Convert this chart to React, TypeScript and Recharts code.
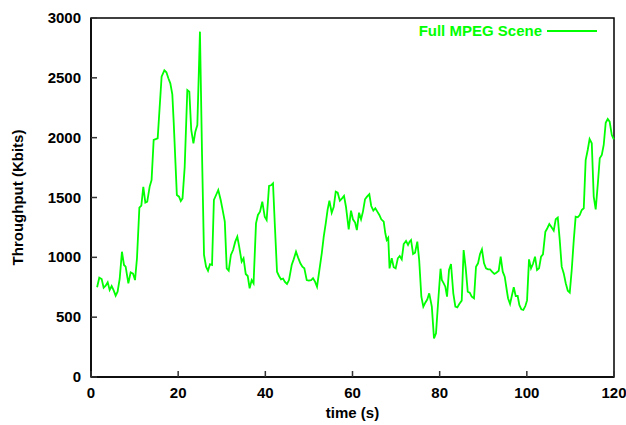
import React from 'react';
import { LineChart, Line, XAxis, YAxis, Legend, ReferenceArea } from 'recharts';

// seconds
const time = [
  1.4, 1.9, 2.45, 2.9, 3.37, 3.83, 4.28, 4.74, 5.2, 5.66, 6.1, 6.58, 7.1, 7.57, 7.95, 8.57, 9.1, 9.64, 10.1, 10.55,
  11.1, 11.55, 12.0, 12.47, 12.9, 13.46, 13.9, 14.38, 15.3, 16.2, 16.83, 17.3, 17.75, 18.2, 18.66, 18.97, 19.7, 20.2,
  20.6, 21.0, 21.5, 22.1, 22.56, 23.0, 23.5, 23.94, 24.4, 25.0, 25.47, 25.93, 26.4, 26.85, 27.3, 27.77, 28.2, 28.7,
  29.2, 29.76, 30.2, 30.7, 31.14, 31.6, 32.1, 32.6, 33.1, 33.57, 34.0, 34.57, 35.0, 35.5, 35.96, 36.4, 36.87, 37.3,
  37.86, 38.3, 38.78, 39.3, 39.86, 40.3, 40.85, 41.3, 41.76, 42.2, 42.68, 43.14, 43.6, 44.06, 44.5, 44.97, 45.43,
  46.05, 46.5, 47.04, 47.5, 48.03, 48.5, 48.95, 49.5, 49.96, 50.5, 50.94, 51.4, 51.86, 52.4, 52.95, 53.4, 53.86,
  54.3, 54.7, 55.23, 55.7, 56.15, 56.6, 57.1, 57.6, 58.05, 58.5, 59.13, 59.66, 60.1, 60.6, 61.0, 61.5, 61.96, 62.4,
  62.87, 63.33, 63.86, 64.3, 64.78, 65.24, 65.7, 66.16, 66.6, 67.16, 67.53, 67.85, 68.2, 68.5, 69.0, 69.45, 69.9,
  70.4, 70.83, 71.3, 71.75, 72.28, 72.74, 73.1, 73.43, 73.9, 74.35, 74.87, 75.3, 75.8, 76.25, 76.7, 77.17, 77.6,
  78.2, 78.7, 79.16, 79.6, 80.2, 80.5, 80.93, 81.3, 81.69, 82.15, 82.6, 83.13, 83.6, 84.05, 84.5, 85.06, 85.5,
  85.98, 86.44, 86.9, 87.36, 87.88, 88.34, 88.8, 89.26, 89.7, 90.18, 90.64, 91.1, 91.55, 92.0, 92.54, 93.0, 93.55,
  94.0, 94.47, 94.93, 95.39, 95.69, 96.15, 96.6, 97.0, 97.45, 97.9, 98.28, 98.74, 99.2, 99.66, 100.05, 100.5,
  100.96, 101.4, 101.88, 102.34, 102.8, 103.26, 103.7, 104.25, 104.7, 105.16, 105.6, 106.17, 106.63, 107.1, 107.55,
  108.0, 108.47, 108.93, 109.4, 109.85, 110.3, 110.77, 111.2, 111.68, 112.14, 112.6, 113.06, 113.5, 113.97, 114.4,
  114.9, 115.35, 115.8, 116.3, 116.73, 117.2, 117.64, 118.1, 118.56, 119.0, 119.5, 119.96,
];

// Kbits
const throughput = [
  750, 830, 819, 746, 763, 791, 727, 760, 724, 680, 713, 819, 1047, 936, 922, 783, 875, 864, 810, 992,
  1415, 1432, 1588, 1457, 1465, 1591, 1646, 1981, 1995, 2510, 2563, 2546, 2496, 2454, 2362, 2134, 1521, 1507,
  1471, 1493, 1757, 2398, 2384, 2064, 1953, 2050, 2106, 2886, 1869, 1020, 922, 888, 942, 936, 1479, 1521,
  1563, 1479, 1396, 1298, 908, 888, 1020, 1061, 1131, 1173, 1089, 964, 992, 861, 844, 741, 810, 783,
  1284, 1354, 1382, 1465, 1340, 1312, 1596, 1602, 1619, 1256, 880, 844, 816, 822, 794, 777, 810,
  936, 983, 1047, 1000, 950, 922, 908, 810, 805, 810, 825, 797, 755, 894, 1034, 1173, 1284,
  1401, 1473, 1373, 1423, 1549, 1540, 1473, 1493, 1513, 1423, 1234, 1390, 1318, 1290, 1228, 1373, 1318, 1382,
  1485, 1507, 1527, 1429, 1390, 1410, 1382, 1354, 1318, 1298, 1201, 1145, 1164, 908, 992, 917, 908,
  992, 1011, 983, 1111, 1137, 1103, 1131, 1145, 1028, 1039, 1131, 978, 671, 588, 621, 649, 699,
  588, 323, 365, 602, 905, 810, 783, 755, 671, 894, 944, 699, 588, 582, 610, 638, 1061,
  908, 713, 705, 671, 658, 922, 950, 1028, 1067, 950, 908, 900, 900, 880, 861, 872, 888,
  1005, 880, 838, 727, 658, 610, 685, 750, 677, 677, 602, 566, 560, 593, 640, 983,
  908, 944, 1005, 894, 908, 1005, 1025, 1214, 1243, 1279, 1256, 1223, 1318, 1332, 1145,
  922, 866, 783, 721, 705, 894, 1145, 1340, 1335, 1354, 1396, 1410, 1813, 1897, 1989,
  1953, 1507, 1401, 1619, 1828, 1855, 1939, 2125, 2156, 2134, 2022, 1986,
];

const xTicks = [0, 20, 40, 60, 80, 100, 120];
const yTicks = [0, 500, 1000, 1500, 2000, 2500, 3000];

const data = time.map((t, i) => ({ t, v: throughput[i] }));

const FONT = '"Liberation Sans", Arial, Helvetica, sans-serif';
const GREEN = '#00ff00';
const FRAME = '#000000';
const TICK = '#333333';

// tick marks point into the plot, gnuplot style
const LeftTick = (props: any) => {
  const { x, y, payload } = props;
  return (
    <g>
      <rect x={x} y={y - 0.75} width={6} height={1.5} fill={TICK} />
      <text x={x - 10} y={y + 5} textAnchor="end" fontFamily={FONT} fontWeight="bold" fontSize={15} fill="#000">
        {payload.value}
      </text>
    </g>
  );
};

const RightTick = (props: any) => {
  const { x, y } = props;
  return <rect x={x - 6} y={y - 0.75} width={6} height={1.5} fill={TICK} />;
};

const BottomTick = (props: any) => {
  const { x, y, payload } = props;
  return (
    <g>
      <rect x={x - 0.75} y={y - 6} width={1.5} height={6} fill={TICK} />
      <text x={x} y={y + 21} textAnchor="middle" fontFamily={FONT} fontWeight="bold" fontSize={15} fill="#000">
        {payload.value}
      </text>
    </g>
  );
};

const TopTick = (props: any) => {
  const { x, y } = props;
  return <rect x={x - 0.75} y={y} width={1.5} height={6} fill={TICK} />;
};

const YLabel = (props: any) => {
  const { viewBox } = props;
  const cy = viewBox.y + viewBox.height / 2;
  return (
    <text
      x={17}
      y={cy}
      transform={`rotate(-90, 17, ${cy})`}
      textAnchor="middle"
      dominantBaseline="central"
      fontFamily={FONT}
      fontWeight="bold"
      fontSize={15}
      fill="#000"
    >
      Throughput (Kbits)
    </text>
  );
};

const XLabel = (props: any) => {
  const { viewBox } = props;
  const cx = viewBox.x + viewBox.width / 2;
  return (
    <text x={cx} y={418} textAnchor="middle" fontFamily={FONT} fontWeight="bold" fontSize={15} fill="#000">
      time (s)
    </text>
  );
};

const renderLegend = (props: any) => {
  const item = props.payload && props.payload[0];
  return (
    <div style={{ display: 'flex', alignItems: 'center', justifyContent: 'flex-end' }}>
      <span style={{ fontFamily: FONT, fontWeight: 'bold', fontSize: 15, color: GREEN, lineHeight: '17px' }}>
        {item ? item.value : ''}
      </span>
      <span style={{ display: 'inline-block', width: 50, height: 2, background: GREEN, marginLeft: 5 }} />
    </div>
  );
};

export default function App() {
  return (
    <div style={{ position: 'absolute', left: 0, top: 0, width: 626, height: 425, background: '#fff' }}>
      <LineChart width={626} height={425} data={data} margin={{ top: 18, right: 12, left: 0, bottom: 0 }}>
        <XAxis
          xAxisId="b"
          dataKey="t"
          type="number"
          domain={[0, 120]}
          ticks={xTicks}
          height={48}
          tickSize={0}
          tickMargin={0}
          tickLine={false}
          axisLine={{ stroke: FRAME, strokeWidth: 1.5 }}
          tick={<BottomTick />}
          label={<XLabel />}
        />
        <XAxis
          xAxisId="t"
          orientation="top"
          dataKey="t"
          type="number"
          domain={[0, 120]}
          ticks={xTicks}
          height={0}
          tickSize={0}
          tickMargin={0}
          tickLine={false}
          axisLine={{ stroke: FRAME, strokeWidth: 1.5 }}
          tick={<TopTick />}
        />
        <YAxis
          yAxisId="l"
          type="number"
          domain={[0, 3000]}
          ticks={yTicks}
          width={91}
          tickSize={0}
          tickMargin={0}
          tickLine={false}
          axisLine={{ stroke: FRAME, strokeWidth: 1.5 }}
          tick={<LeftTick />}
          label={<YLabel />}
        />
        <YAxis
          yAxisId="r"
          orientation="right"
          type="number"
          domain={[0, 3000]}
          ticks={yTicks}
          width={0}
          tickSize={0}
          tickMargin={0}
          tickLine={false}
          axisLine={{ stroke: FRAME, strokeWidth: 1.5 }}
          tick={<RightTick />}
        />
        <ReferenceArea
          xAxisId="b"
          yAxisId="l"
          x1={0}
          x2={120}
          y1={0}
          y2={3000}
          fill="#ffffff"
          fillOpacity={0}
          stroke={FRAME}
          strokeOpacity={1}
          strokeWidth={1.5}
          ifOverflow="visible"
        />
        <Legend
          layout="vertical"
          verticalAlign="middle"
          align="center"
          content={renderLegend}
          wrapperStyle={{ top: 22, right: 29, left: 'auto', width: 'auto' }}
        />
        <Line
          xAxisId="b"
          yAxisId="l"
          type="linear"
          dataKey="v"
          name="Full MPEG Scene"
          stroke={GREEN}
          strokeWidth={1.8}
          dot={false}
          isAnimationActive={false}
        />
      </LineChart>
    </div>
  );
}
